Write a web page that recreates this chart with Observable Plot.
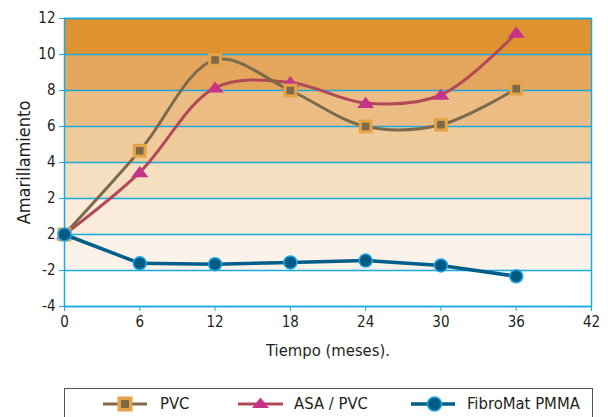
<!DOCTYPE html>
<html>
<head>
<meta charset="utf-8">
<script src="https://cdn.jsdelivr.net/npm/d3@7"></script>
<script src="https://cdn.jsdelivr.net/npm/@observablehq/plot@0.6"></script>
<style>
  body { margin: 0; background: #fff; font-family: "Liberation Sans Narrow", "DejaVu Sans Condensed", "Roboto", sans-serif; }
  #wrap { position: relative; width: 608px; height: 417px; overflow: hidden; }
  #legend { position: absolute; left: 64px; top: 388px; width: 529px; height: 34px; border: 1px solid #555; box-sizing: border-box; }
  .sample { position: absolute; top: 5px; }
  .lbl { position: absolute; top: 5px; font-size: 16.5px; line-height: 20px; color: #231f20; white-space: nowrap; }
  [aria-label="y-axis label"] { font-size: 18px; }
  [aria-label="x-axis label"] { font-size: 16.5px; }
</style>
</head>
<body>
<div id="wrap">
  <div id="chart"></div>
  <div id="legend"></div>
</div>
<script>
// ---- data ----
const months = [0, 6, 12, 18, 24, 30, 36];
const pvcValues = [0, 4.65, 9.7, 8.0, 6.0, 6.1, 8.1];
const asaValues = [0, 3.45, 8.15, 8.45, 7.3, 7.75, 11.2];
const fibroValues = [0, -1.6, -1.65, -1.55, -1.45, -1.72, -2.32];
const seriesNames = ["PVC", "ASA / PVC", "FibroMat PMMA"];
const xTicks = [0, 6, 12, 18, 24, 30, 36, 42];
const yTicks = [-4, -2, 0, 2, 4, 6, 8, 10, 12];
const yTickLabels = ["-4", "-2", "2", "2", "4", "6", "8", "10", "12"];
const bandEdges = [-2, 0, 2, 4, 6, 8, 10, 12];

// ---- styles ----
const cyan = "#1ba9e1";
const bandColors = ["#fbf3ea", "#f9eada", "#f5dfc1", "#efca9b", "#ebbc83", "#e4a65c", "#de9230"];
const textColor = "#231f20";
const font = '"Liberation Sans Narrow", "DejaVu Sans Condensed", sans-serif';

// flat (wide) triangle symbol like the reference markers
const flatTriangle = {
  draw(context, size) {
    const r = Math.sqrt(size / Math.PI);
    context.moveTo(0, -1.05 * r);
    context.lineTo(1.42 * r, 0.8 * r);
    context.lineTo(-1.42 * r, 0.8 * r);
    context.closePath();
  }
};

const pvc = months.map((m, i) => ({x: m, y: pvcValues[i]}));
const asa = months.map((m, i) => ({x: m, y: asaValues[i]}));
const fibro = months.map((m, i) => ({x: m, y: fibroValues[i]}));
const bands = bandEdges.slice(0, -1).map((lo, i) => ({lo, hi: bandEdges[i + 1], color: bandColors[i]}));
const xDomain = [xTicks[0], xTicks[xTicks.length - 1]];

const bandMarks = bands.map(b => Plot.rect([b], {x1: () => xDomain[0], x2: () => xDomain[1], y1: "lo", y2: "hi", fill: b.color}));

const chart = Plot.plot({
  width: 608,
  height: 380,
  marginLeft: 64,
  marginRight: 17,
  marginTop: 18,
  marginBottom: 74,
  style: {fontFamily: font, fontSize: "14px", color: textColor, background: "transparent"},
  x: {domain: xDomain},
  y: {domain: [-4, 12]},
  marks: [
    ...bandMarks,
    Plot.ruleY(yTicks, {stroke: cyan, strokeWidth: 1.5}),
    Plot.frame({stroke: cyan, strokeWidth: 1.5}),
    Plot.axisY(yTicks, {
      tickSize: 5, tickPadding: 4, stroke: cyan, fill: textColor, fontSize: 15,
      tickFormat: (d) => yTickLabels[yTicks.indexOf(d)],
      label: "Amarillamiento", labelAnchor: "center", labelArrow: "none", labelOffset: 47
    }),
    Plot.axisX(xTicks, {
      tickSize: 5, tickPadding: 5, stroke: cyan, fill: textColor, fontSize: 15,
      label: "Tiempo (meses).", labelAnchor: "center", labelArrow: "none", labelOffset: 49
    }),
    Plot.line(asa, {x: "x", y: "y", curve: "catmull-rom", stroke: "#b04a58", strokeWidth: 3}),
    Plot.dot(asa, {x: "x", y: "y", symbol: flatTriangle, r: 6, fill: "#c8338a"}),
    Plot.line(pvc, {x: "x", y: "y", curve: "catmull-rom", stroke: "#7d6a4a", strokeWidth: 3}),
    Plot.dot(pvc, {x: "x", y: "y", symbol: "square", r: 7.8, fill: "#e3a347"}),
    Plot.dot(pvc, {x: "x", y: "y", symbol: "square", r: 4.3, fill: "#7d6a4a"}),
    Plot.line(fibro, {x: "x", y: "y", stroke: "#005e8a", strokeWidth: 3.5}),
    Plot.dot(fibro, {x: "x", y: "y", r: 6.5, fill: "#005a85", stroke: cyan, strokeWidth: 1.5})
  ]
});
document.getElementById("chart").appendChild(chart);

// legend (positions relative to legend box)
const legend = document.getElementById("legend");
const samples = [
  `<svg width="44" height="20"><line x1="0" y1="10" x2="44" y2="10" stroke="#7d6a4a" stroke-width="3"/><rect x="14.5" y="2.5" width="15" height="15" fill="#e3a347"/><rect x="18" y="6" width="8" height="8" fill="#7d6a4a"/></svg>`,
  `<svg width="45" height="20"><line x1="0" y1="10" x2="45" y2="10" stroke="#b04a58" stroke-width="3"/><polygon points="22.5,3.5 31,14 14,14" fill="#c8338a"/></svg>`,
  `<svg width="44" height="20"><line x1="0" y1="10" x2="44" y2="10" stroke="#005e8a" stroke-width="3.5"/><circle cx="23.5" cy="10" r="7" fill="#005a85" stroke="${cyan}" stroke-width="1.5"/></svg>`
];
const sampleLefts = [38, 173, 346];
const labelLefts = [95, 229, 402];
seriesNames.forEach((name, i) => {
  const s = document.createElement("div");
  s.className = "sample";
  s.style.left = sampleLefts[i] + "px";
  s.innerHTML = samples[i];
  legend.appendChild(s);
  const t = document.createElement("div");
  t.className = "lbl";
  t.style.left = labelLefts[i] + "px";
  t.textContent = name;
  legend.appendChild(t);
});
</script>
</body>
</html>
